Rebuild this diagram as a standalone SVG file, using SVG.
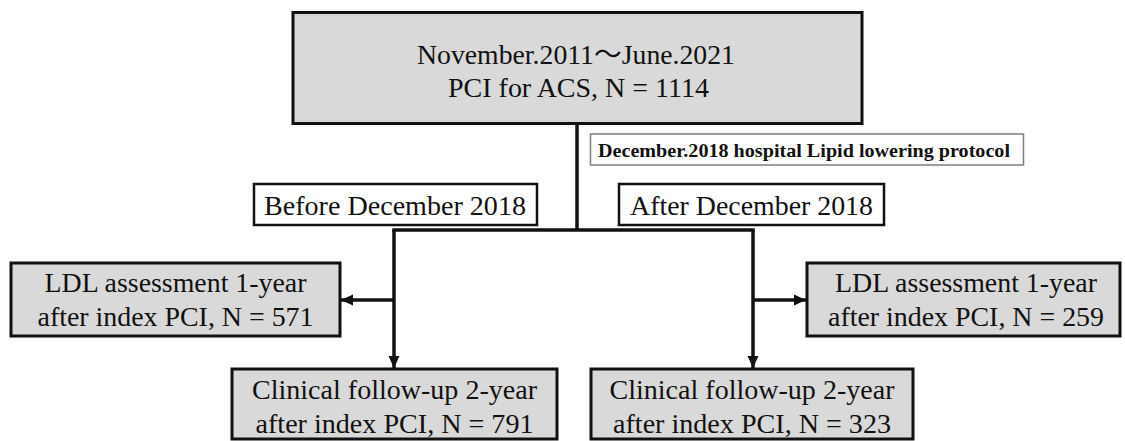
<svg xmlns="http://www.w3.org/2000/svg" width="1125" height="441" viewBox="0 0 1125 441">
  <style>
    .box { fill: #d9d9d9; stroke: #111; stroke-width: 3; }
    .wbox { fill: #fff; stroke: #111; stroke-width: 2.5; }
    .lbox { fill: #fff; stroke: #808080; stroke-width: 1.5; }
    .t { font-family: 'Liberation Serif', 'Noto Sans CJK JP', serif; font-size: 27px; fill: #111; text-anchor: middle; }
    .tb { font-family: 'Liberation Serif', serif; font-size: 19px; font-weight: bold; fill: #111; text-anchor: middle; }
    .c { stroke: #111; stroke-width: 3.5; fill: none; }
  </style>
  <defs>
    <marker id="arr" markerUnits="userSpaceOnUse" markerWidth="13" markerHeight="12" refX="12" refY="6" orient="auto">
      <path d="M0,0.5 L12,6 L0,11.5 z" fill="#111"/>
    </marker>
  </defs>
  <rect width="1125" height="441" fill="#fff"/>

  <g id="connectors">
    <line class="c" x1="577" y1="124" x2="577" y2="230"/>
    <line class="c" x1="392.25" y1="230" x2="754.75" y2="230"/>
    <line class="c" x1="394" y1="230" x2="394" y2="368" marker-end="url(#arr)"/>
    <line class="c" x1="394" y1="300" x2="341" y2="300" marker-end="url(#arr)"/>
    <line class="c" x1="753" y1="230" x2="753" y2="368" marker-end="url(#arr)"/>
    <line class="c" x1="753" y1="300" x2="806" y2="300" marker-end="url(#arr)"/>
  </g>

  <g id="start">
    <rect class="box" x="293" y="12.5" width="569" height="111" stroke-width="3.5"/>
    <text class="t" x="576" y="64" font-size="29" textLength="318" lengthAdjust="spacingAndGlyphs">November.2011～June.2021</text>
    <text class="t" x="578.5" y="97" font-size="29" textLength="261" lengthAdjust="spacingAndGlyphs">PCI for ACS, N = 1114</text>
  </g>

  <g id="protocol">
    <rect class="lbox" x="590.5" y="134" width="433" height="31"/>
    <text class="tb" x="804" y="157" textLength="412" lengthAdjust="spacingAndGlyphs">December.2018 hospital Lipid lowering protocol</text>
  </g>

  <g id="before">
    <rect class="wbox" x="254" y="184" width="283" height="41"/>
    <text class="t" x="395" y="215" textLength="262" lengthAdjust="spacingAndGlyphs">Before December 2018</text>
  </g>

  <g id="after">
    <rect class="wbox" x="619" y="184" width="265" height="41"/>
    <text class="t" x="751.5" y="215" textLength="243" lengthAdjust="spacingAndGlyphs">After December 2018</text>
  </g>

  <g id="ldl-before">
    <rect class="box" x="11" y="263" width="329" height="73"/>
    <text class="t" x="175.5" y="292" textLength="262" lengthAdjust="spacingAndGlyphs">LDL assessment 1-year</text>
    <text class="t" x="175.5" y="326" textLength="276" lengthAdjust="spacingAndGlyphs">after index PCI, N = 571</text>
  </g>

  <g id="ldl-after">
    <rect class="box" x="807" y="263" width="313" height="73"/>
    <text class="t" x="966" y="292" textLength="262" lengthAdjust="spacingAndGlyphs">LDL assessment 1-year</text>
    <text class="t" x="966" y="326" textLength="276" lengthAdjust="spacingAndGlyphs">after index PCI, N = 259</text>
  </g>

  <g id="followup-before">
    <rect class="box" x="232" y="369" width="325" height="70"/>
    <text class="t" x="394.5" y="399" textLength="285" lengthAdjust="spacingAndGlyphs">Clinical follow-up 2-year</text>
    <text class="t" x="394.5" y="433" textLength="278" lengthAdjust="spacingAndGlyphs">after index PCI, N = 791</text>
  </g>

  <g id="followup-after">
    <rect class="box" x="591" y="369" width="322" height="70"/>
    <text class="t" x="752" y="399" textLength="285" lengthAdjust="spacingAndGlyphs">Clinical follow-up 2-year</text>
    <text class="t" x="752" y="433" textLength="278" lengthAdjust="spacingAndGlyphs">after index PCI, N = 323</text>
  </g>
</svg>
